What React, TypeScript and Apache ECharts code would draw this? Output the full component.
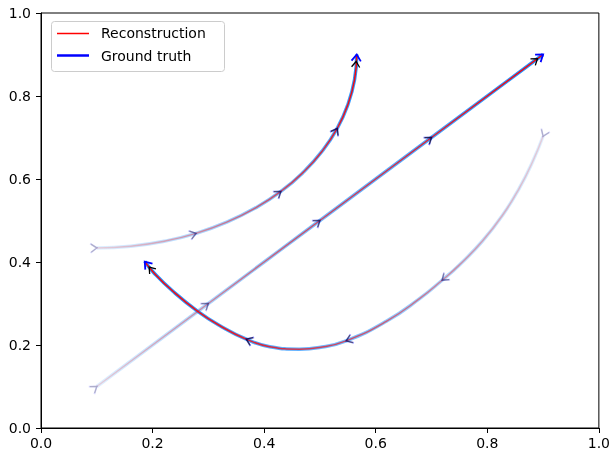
import React, { useEffect, useRef } from "react";
import * as echarts from "echarts";

// Curve A (arc) – ground truth points (start -> end)
const arcTruth: number[][] = [
  [0.100, 0.434], [0.161, 0.438], [0.221, 0.450], [0.278, 0.469], [0.333, 0.496],
  [0.384, 0.530], [0.430, 0.570], [0.470, 0.616], [0.504, 0.667], [0.531, 0.722],
  [0.550, 0.779], [0.562, 0.839], [0.566, 0.900],
];
const arcArrowIdx = [0, 3, 6, 9, 12];

// Curve B (straight line)
const lineTruth: number[][] = [
  [0.1, 0.1], [0.3, 0.3], [0.5, 0.5], [0.7, 0.7], [0.9, 0.9],
];
const lineArrowIdx = [0, 1, 2, 3, 4];

// Curve C (bowl)
const bowlTruth: number[][] = [
  [0.900, 0.703], [0.881, 0.641], [0.857, 0.577], [0.827, 0.512], [0.791, 0.450],
  [0.750, 0.393], [0.719, 0.356], [0.678, 0.311], [0.619, 0.257], [0.547, 0.210],
  [0.499, 0.194], [0.463, 0.190], [0.410, 0.196], [0.368, 0.214], [0.320, 0.247],
  [0.281, 0.281], [0.236, 0.330], [0.203, 0.373], [0.186, 0.401],
];
const bowlArrowIdx = [0, 6, 9, 13, 18];

// Reconstructions (overlap the ground truth in the picture)
const arcRecon = arcTruth;
const lineRecon = lineTruth;
const bowlRecon = bowlTruth;

const legendLabels = ["Reconstruction", "Ground truth"];
const FONT = "DejaVu Sans";

function grad(x: number, y: number, x2: number, y2: number, rgb: string) {
  return {
    type: "linear", x, y, x2, y2,
    colorStops: [
      { offset: 0, color: `rgba(${rgb},0.14)` },
      { offset: 0.5, color: `rgba(${rgb},0.6)` },
      { offset: 1, color: `rgba(${rgb},1)` },
    ],
  };
}

function arrowData(pts: number[][], idx: number[]) {
  const n = pts.length;
  return idx.map((i, j) => {
    const a = i === 0 ? pts[0] : pts[i - 1];
    const b = i === n - 1 ? pts[n - 1] : pts[i + 1];
    return [pts[i][0], pts[i][1], a[0], a[1], b[0], b[1], j / (idx.length - 1), i === n - 1 ? 1 : 0];
  });
}

function renderArrow(_params: any, api: any) {
  const p = api.coord([api.value(0), api.value(1)]);
  const a = api.coord([api.value(2), api.value(3)]);
  const b = api.coord([api.value(4), api.value(5)]);
  const t = api.value(6);
  const isEnd = api.value(7) === 1;
  const ang = Math.atan2(b[1] - a[1], b[0] - a[0]);
  const alpha = 0.25 + 0.75 * t;
  const chev = (tip: number[], L: number, h: number) => [
    [tip[0] - L * Math.cos(ang - h), tip[1] - L * Math.sin(ang - h)],
    tip,
    [tip[0] - L * Math.cos(ang + h), tip[1] - L * Math.sin(ang + h)],
  ];
  const blackTip = isEnd ? [p[0] - 7 * Math.cos(ang), p[1] - 7 * Math.sin(ang)] : p;
  return {
    type: "group",
    children: [
      {
        type: "polyline",
        shape: { points: chev(p, 8, 0.62) },
        style: { stroke: `rgba(0,0,255,${isEnd ? 1 : alpha * 0.6})`, lineWidth: 1.8, fill: null },
      },
      {
        type: "polyline",
        shape: { points: chev(blackTip, 7, 0.62) },
        style: { stroke: `rgba(0,0,0,${isEnd ? 1 : alpha * 0.8})`, lineWidth: 1.3, fill: null },
      },
    ],
  };
}

function curveSeries(truth: number[][], recon: number[][], idx: number[], g: number[]) {
  const [x, y, x2, y2] = g;
  return [
    {
      type: "line", data: truth, showSymbol: false, symbol: "none", smooth: 0.5, silent: true, z: 2,
      lineStyle: { width: 3.5, color: grad(x, y, x2, y2, "30,144,255") },
    },
    {
      type: "line", data: recon, showSymbol: false, symbol: "none", smooth: 0.5, silent: true, z: 3,
      lineStyle: { width: 1.5, color: grad(x, y, x2, y2, "255,0,0") },
    },
    {
      type: "custom", coordinateSystem: "cartesian2d", silent: true, z: 4,
      encode: { x: 0, y: 1 },
      data: arrowData(truth, idx),
      renderItem: renderArrow,
    },
  ];
}

export default function App() {
  const ref = useRef<HTMLDivElement>(null);
  useEffect(() => {
    if (!ref.current) return;
    const chart = echarts.init(ref.current, null, { renderer: "svg" });
    const axisCommon = {
      type: "value", min: 0, max: 1, interval: 0.2,
      splitLine: { show: false },
      axisLine: { show: true, lineStyle: { color: "#000", width: 1 } },
      axisTick: { show: true, inside: false, length: 5, lineStyle: { color: "#000", width: 1 } },
    };
    chart.setOption({
      animation: false,
      grid: { left: 41, right: 13, top: 13, bottom: 24, show: true, borderColor: "#000", borderWidth: 1, containLabel: false },
      xAxis: {
        ...axisCommon,
        axisLabel: { color: "#000", fontSize: 14, fontFamily: FONT, margin: 8, formatter: (v: number) => v.toFixed(1) },
      },
      yAxis: {
        ...axisCommon,
        axisLabel: { color: "#000", fontSize: 14, fontFamily: FONT, margin: 10, formatter: (v: number) => v.toFixed(1) },
      },
      series: [
        ...curveSeries(arcTruth, arcRecon, arcArrowIdx, [0, 1, 1, 0]),
        ...curveSeries(lineTruth, lineRecon, lineArrowIdx, [0, 1, 1, 0]),
        ...curveSeries(bowlTruth, bowlRecon, bowlArrowIdx, [1, 0, 0, 0]),
      ],
      graphic: [
        {
          type: "rect", left: 51, top: 21, shape: { width: 173, height: 50, r: 3 },
          style: { fill: "rgba(255,255,255,0.8)", stroke: "#cccccc", lineWidth: 1 }, z: 10,
        },
        { type: "line", shape: { x1: 57, y1: 33.5, x2: 89, y2: 33.5 }, style: { stroke: "#ff0000", lineWidth: 1.5 }, z: 11 },
        { type: "line", shape: { x1: 57, y1: 55.5, x2: 89, y2: 55.5 }, style: { stroke: "#0000ff", lineWidth: 2.5 }, z: 11 },
        {
          type: "text", x: 101, y: 33, z: 11,
          style: { text: legendLabels[0], fill: "#000", font: `14px "${FONT}"`, textVerticalAlign: "middle", verticalAlign: "middle" },
        },
        {
          type: "text", x: 101, y: 56, z: 11,
          style: { text: legendLabels[1], fill: "#000", font: `14px "${FONT}"`, textVerticalAlign: "middle", verticalAlign: "middle" },
        },
      ],
    });
    return () => chart.dispose();
  }, []);
  return <div ref={ref} style={{ position: "fixed", left: 0, top: 0, width: 613, height: 452 }} />;
}
